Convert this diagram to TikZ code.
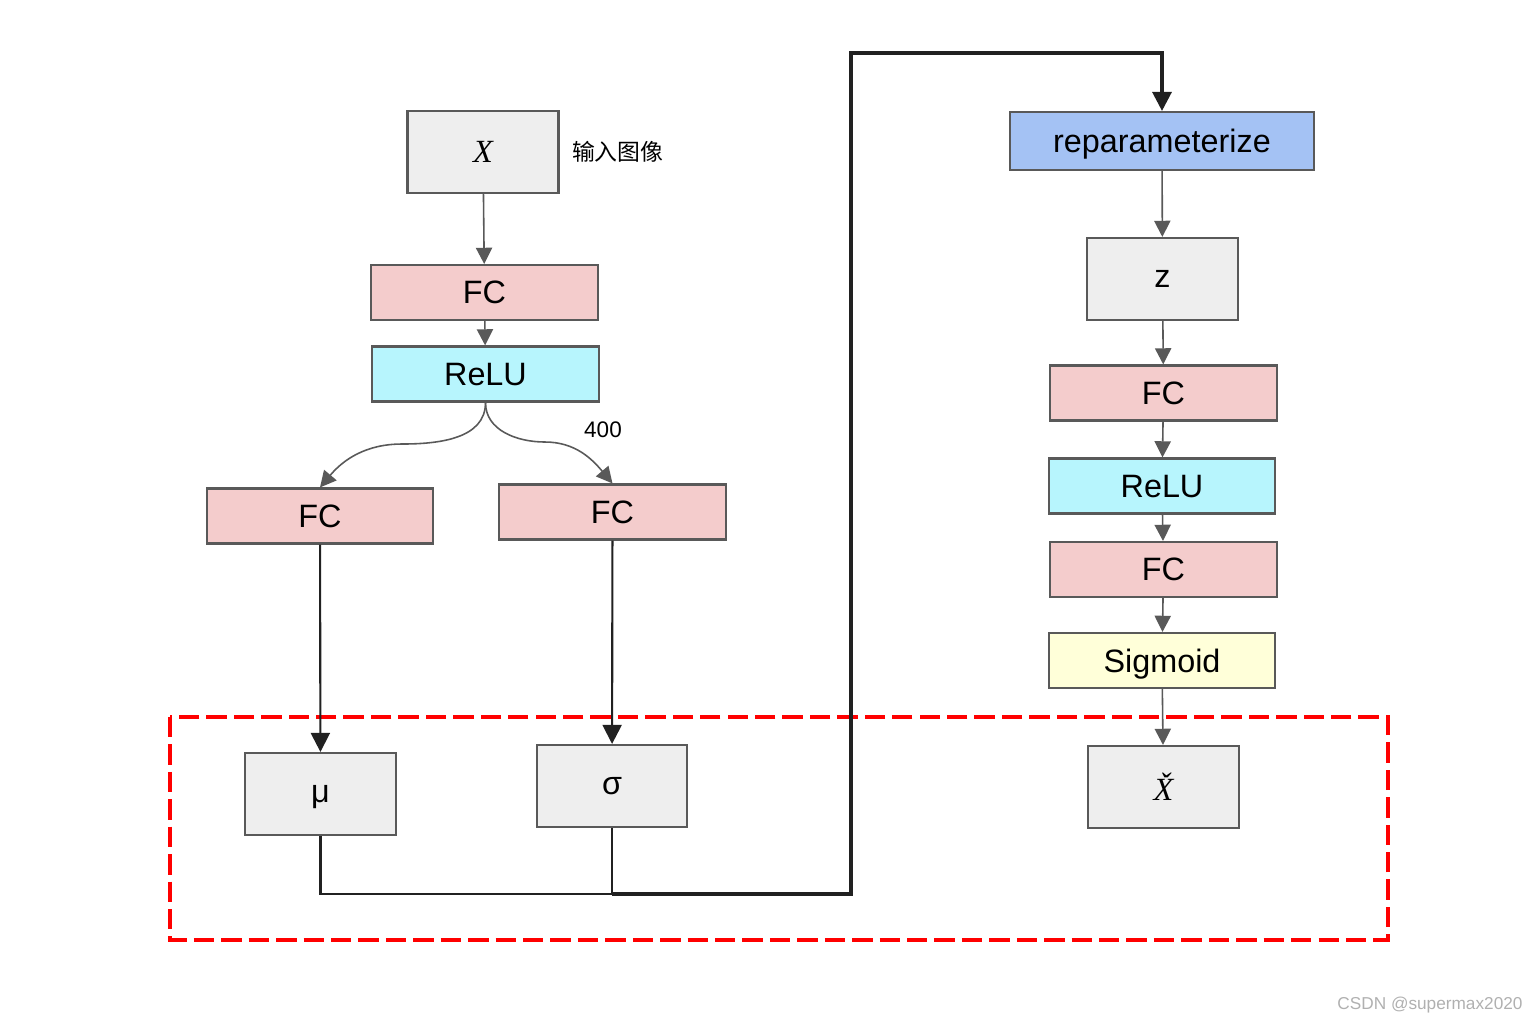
\documentclass[tikz,border=0pt]{standalone}
\usepackage{fontspec}
\setmainfont{Liberation Sans}
\newfontfamily\cjk{Noto Sans CJK SC}
\newfontfamily\timesfont{Liberation Serif}
\usetikzlibrary{arrows.meta,positioning,calc}
\definecolor{fcred}{RGB}{244,204,204}
\definecolor{relucyan}{RGB}{183,245,253}
\definecolor{repblue}{RGB}{164,194,244}
\definecolor{sigyellow}{RGB}{255,255,217}
\definecolor{boxgray}{RGB}{238,238,238}
\definecolor{edgegray}{RGB}{89,89,89}
\definecolor{markgray}{RGB}{176,176,176}

\begin{document}
\begin{tikzpicture}[x=0.01cm, y=-0.01cm,
    box/.style={rectangle, draw=edgegray, line width=0.6pt, inner sep=0pt, text depth=0pt, font=\fontsize{9.2pt}{11pt}\selectfont},
    varbox/.style={box, fill=boxgray, minimum width=1.51cm, minimum height=0.82cm},
    layer/.style={box, minimum width=2.27cm, minimum height=0.55cm},
    garrow/.style={-{Triangle[width=4.6pt,length=4.6pt]}, draw=edgegray, line width=0.45pt},
    barrow/.style={-{Triangle[width=5.4pt,length=5.4pt]}, draw=black!87, line width=0.6pt},
    bline/.style={draw=black!87, line width=0.6pt},
    thickline/.style={draw=black!87, line width=0.9pt}
]
    \useasboundingbox (0,0) rectangle (1539,1023);

    % encoder
    \node[varbox] (x) at (483,152) {\timesfont\itshape X};
    \node[right=0cm of x, font=\cjk\fontsize{6.5pt}{8pt}\selectfont] (xlabel) {输入图像};
    \node[layer, fill=fcred] (fc1) at (484.5,292.5) {FC};
    \node[layer, fill=relucyan] (relu1) at (485.5,374) {ReLU};
    \node[layer, fill=fcred, minimum width=2.26cm] (fcmu) at (320,516) {FC};
    \node[layer, fill=fcred] (fcsig) at (612.5,512) {FC};
    \node[varbox] (mu) at (320.5,794) {μ};
    \node[varbox, minimum width=1.5cm] (sigma) at (612,786) {σ};

    % decoder
    \node[box, fill=repblue, minimum width=3.04cm, minimum height=0.58cm] (rep) at (1162,141) {reparameterize};
    \node[varbox] (z) at (1162.5,279) {z};
    \node[layer, fill=fcred] (fc2) at (1163.5,393) {FC};
    \node[layer, fill=relucyan, minimum width=2.26cm] (relu2) at (1162,486) {ReLU};
    \node[layer, fill=fcred] (fc3) at (1163.5,569.5) {FC};
    \node[layer, fill=sigyellow, minimum width=2.26cm] (sig) at (1162,660.5) {Sigmoid};
    \node[varbox] (xhat) at (1163.5,787) {\timesfont\itshape \v{X}};

    % dashed frame
    \draw[red, line width=1.15pt, dash pattern=on 5.8pt off 2pt] (170,717) rectangle (1388,940);

    % connectors
    \draw[garrow] (x) -- (fc1);
    \draw[garrow] (fc1) -- (relu1);
    \coordinate (lmid) at (402,444);
    \coordinate (rmid) at (545,442);
    \draw[garrow] (relu1.south) to[out=-90,in=0] (lmid) to[out=180,in=50] (fcmu.north);
    \draw[garrow] (relu1.south) to[out=-90,in=180] (rmid) to[out=0,in=130] (fcsig.north);
    \node[font=\fontsize{6.4pt}{8pt}\selectfont] (dim) at (603,430) {400};

    \draw[barrow] (fcmu) -- (mu);
    \draw[barrow] (fcsig) -- (sigma);

    \coordinate (merge) at (612,894);
    \coordinate (turn) at (851,53);
    \draw[bline] (mu.south) |- (merge);
    \draw[bline] (sigma.south) -- (merge);
    \draw[thickline, -{Triangle[width=5.4pt,length=5.4pt]}] (merge) -| (turn) -| (rep.north);

    \draw[garrow] (rep) -- (z);
    \draw[garrow] (z) -- (fc2);
    \draw[garrow] (fc2) -- (relu2);
    \draw[garrow] (relu2) -- (fc3);
    \draw[garrow] (fc3) -- (sig);
    \draw[garrow] (sig) -- (xhat);

    \node[text=markgray, font=\fontsize{4.9pt}{6pt}\selectfont] (mark) at (1430,1005) {CSDN @supermax2020};
\end{tikzpicture}
\end{document}
